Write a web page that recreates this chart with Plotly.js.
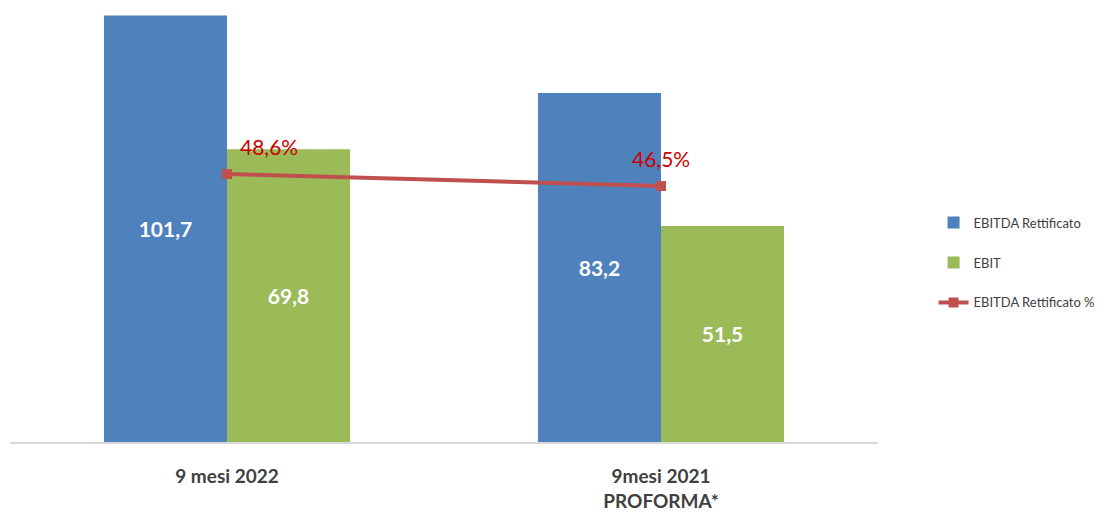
<!DOCTYPE html>
<html><head><meta charset="utf-8">
<script src="https://cdn.plot.ly/plotly-3.0.1.min.js"></script>
<style>html,body{margin:0;padding:0;background:#fff}#chart{width:1113px;height:513px}</style>
</head><body><div id="chart"></div>
<script>
const categories = ["9 mesi 2022", "9mesi 2021<br>PROFORMA*"];
const ebitdaRett = [101.7, 83.2];
const ebit = [69.8, 51.5];
const ebitdaPct = [48.6, 46.5];
const pctLabels = ["48,6%", "46,5%"];

const traces = [
  {type:'bar', name:'EBITDA Rettificato', x:categories, y:ebitdaRett, marker:{color:'#4F81BD'},
   texttemplate:'<b>%{y:.1f}</b>', textposition:'inside', insidetextanchor:'middle',
   textfont:{color:'#ffffff', size:21, family:'Lato, Noto Sans, sans-serif'}, legendgroup:'a', hoverinfo:'skip'},
  {type:'bar', name:'EBIT', x:categories, y:ebit, marker:{color:'#9BBB59'},
   texttemplate:'<b>%{y:.1f}</b>', textposition:'inside', insidetextanchor:'middle',
   textfont:{color:'#ffffff', size:21, family:'Lato, Noto Sans, sans-serif'}, legendgroup:'b', hoverinfo:'skip'},
  {type:'scatter', mode:'lines+markers', name:'EBITDA Rettificato %', x:categories, y:ebitdaPct, yaxis:'y2',
   line:{color:'#C0504D', width:4}, marker:{symbol:'square', size:10, color:'#C0504D'}, legendgroup:'c', hoverinfo:'skip'}
];

const annotations = categories.map((c, i) => ({
  x: c, y: ebitdaPct[i], xref:'x', yref:'y2', text: pctLabels[i], showarrow:false,
  xshift: i === 0 ? 42 : 0, yshift: 28,
  font:{color:'#CC0000', size:21, family:'Lato, Noto Sans, sans-serif'}
}));

const layout = {
  width:1113, height:513,
  margin:{l:10, r:235, t:15, b:71},
  paper_bgcolor:'#ffffff', plot_bgcolor:'#ffffff',
  separators: ',.',
  barmode:'group', bargap:0.433, bargroupgap:0,
  showlegend:true,
  legend:{x:1.064, y:0.42, xanchor:'left', yanchor:'middle', traceorder:'grouped', tracegroupgap:20,
          font:{size:13, color:'#404040', family:'Lato, Noto Sans, sans-serif'}},
  xaxis:{type:'category', showline:true, linecolor:'#D9D9D9', linewidth:2, showgrid:false, zeroline:false,
         tickvals:categories, ticktext:categories.map(c => '<b>' + c + '</b>'),
         ticks:'', ticklabelstandoff:16,
         tickfont:{size:19, color:'#404040', family:'Lato, Noto Sans, sans-serif'}},
  yaxis:{range:[0, 101.8], showgrid:false, zeroline:false, showticklabels:false, showline:false, ticks:''},
  yaxis2:{range:[1.6, 76.5], overlaying:'y', side:'right', showgrid:false, zeroline:false, showticklabels:false, showline:false, ticks:''},
  annotations: annotations
};

Plotly.newPlot('chart', traces, layout, {displayModeBar:false, staticPlot:true});
</script></body></html>
